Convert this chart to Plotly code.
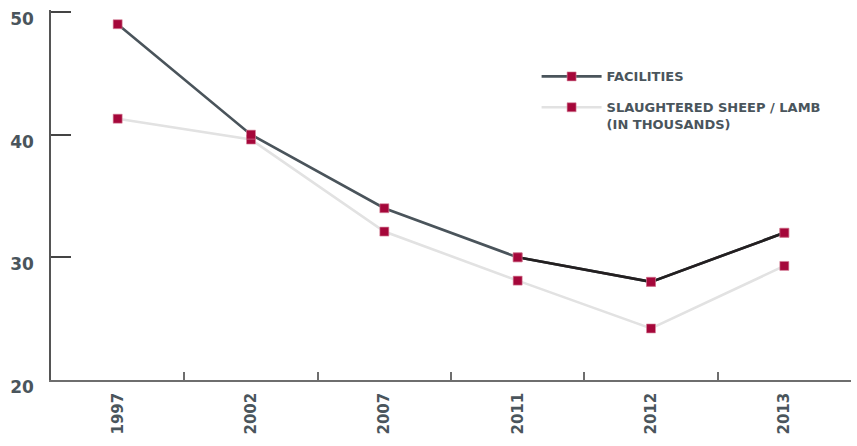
import plotly.graph_objects as go

# Survey years and the two series plotted against them
years = ["1997", "2002", "2007", "2011", "2012", "2013"]
facilities = [49.0, 40.0, 34.0, 30.0, 28.0, 32.0]
sheep_lamb = [41.3, 39.6, 32.1, 28.1, 24.2, 29.3]
y_ticks = [20, 30, 40, 50]

MARKER = "#a5073a"
SLATE = "#4a545b"
TEXT = "#4a555c"
FONT = "DejaVu Sans"

fig = go.Figure()

fig.add_trace(go.Scatter(
    x=years, y=sheep_lamb, mode="lines+markers",
    name="SLAUGHTERED SHEEP / LAMB<br>(IN THOUSANDS)", legendgroup="sheep",
    legendrank=2,
    line=dict(color="#e2e2e2", width=2.6),
    marker=dict(symbol="square", size=9, color=MARKER,
                line=dict(color="#d98aa0", width=0.6)),
))

fig.add_trace(go.Scatter(
    x=years, y=facilities, mode="lines+markers", name="FACILITIES",
    legendgroup="facilities", legendrank=1,
    line=dict(color=SLATE, width=2.6),
    marker=dict(symbol="square", size=9, color=MARKER,
                line=dict(color="#d98aa0", width=0.6)),
))

# the most recent stretch of the facilities line is drawn darker
fig.add_trace(go.Scatter(
    x=years[3:], y=facilities[3:], mode="lines", showlegend=False,
    legendgroup="facilities",
    line=dict(color="#231f20", width=2.6), hoverinfo="skip",
))
fig.add_trace(go.Scatter(
    x=years[3:], y=facilities[3:], mode="markers", showlegend=False,
    legendgroup="facilities",
    marker=dict(symbol="square", size=9, color=MARKER,
                line=dict(color="#d98aa0", width=0.6)),
    hoverinfo="skip",
))

fig.update_layout(
    width=857, height=446,
    margin=dict(l=51, r=6, t=10, b=66),
    paper_bgcolor="white", plot_bgcolor="white",
    font=dict(family=FONT, color=TEXT),
    legend=dict(
        x=0.607, y=0.861, xanchor="left", yanchor="top",
        font=dict(family=FONT, size=13, color=TEXT, weight="bold"),
        traceorder="grouped", valign="top", tracegroupgap=11,
        itemwidth=60,
        bgcolor="rgba(0,0,0,0)",
    ),
    xaxis=dict(
        type="category", range=[-0.5, 5.5],
        showline=True, linecolor="#6e6e6e", linewidth=1.5,
        showgrid=False, zeroline=False,
        ticks="inside", tickson="boundaries", ticklen=8,
        tickcolor="#6e6e6e", tickwidth=1.5,
        tickangle=-90, ticklabelstandoff=5,
        tickfont=dict(family=FONT, size=15, color=TEXT, weight="bold"),
    ),
    yaxis=dict(
        range=[20, 50.16], tickvals=y_ticks,
        showline=True, linecolor="#555555", linewidth=1.5,
        showgrid=False, zeroline=False,
        ticks="inside", ticklen=20, tickcolor="#444444", tickwidth=1.5,
        ticklabelstandoff=12, ticklabelshift=7,
        tickfont=dict(family=FONT, size=17, color=TEXT, weight="bold"),
    ),
)

fig.write_html("out.html")
